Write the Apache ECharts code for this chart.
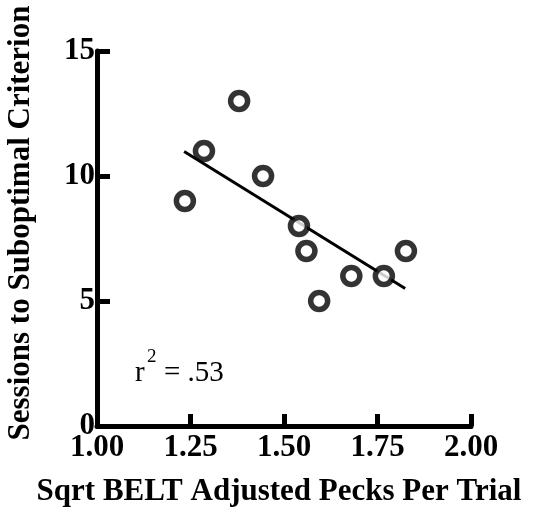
<!DOCTYPE html>
<html><head><meta charset="utf-8">
<script src="https://cdn.jsdelivr.net/npm/echarts@6/dist/echarts.min.js"></script>
<style>html,body{margin:0;padding:0;background:#fff}#c{width:540px;height:512px}</style>
</head><body><div id="c"></div>
<script>
// Data
const xValues = [1.235, 1.286, 1.38, 1.444, 1.54, 1.56, 1.594, 1.68, 1.767, 1.826];
const yValues = [9, 11, 13, 10, 8, 7, 5, 6, 6, 7];
const fitX = [1.233, 1.824];
const fitY = [10.98, 5.5];
const xTickLabels = ['1.00', '1.25', '1.50', '1.75', '2.00'];
const yTickLabels = ['0', '5', '10', '15'];
const xTitle = 'Sqrt BELT Adjusted Pecks Per Trial';
const yTitle = 'Sessions to Suboptimal Criterion';
const annotR = 'r';
const annotSup = '2';
const annotRest = '= .53';

const serif = '"Liberation Serif", "Times New Roman", serif';
const chart = echarts.init(document.getElementById('c'), null, {renderer: 'canvas'});
const pts = xValues.map((x, i) => [x, yValues[i]]);
const fit = fitX.map((x, i) => [x, fitY[i]]);

chart.setOption({
  animation: false,
  backgroundColor: '#fff',
  grid: {left: 97, right: 69, top: 51, bottom: 86, containLabel: false},
  xAxis: {
    type: 'value', min: 1, max: 2, interval: 0.25,
    splitLine: {show: false},
    axisLine: {show: true, lineStyle: {color: '#000', width: 5}},
    axisTick: {show: true, inside: true, length: 12, lineStyle: {color: '#000', width: 5}},
    axisLabel: {color: '#000', fontFamily: serif, fontWeight: 'bold', fontSize: 31, margin: 6,
      formatter: v => xTickLabels[Math.round((v - 1) / 0.25)]}
  },
  yAxis: {
    type: 'value', min: 0, max: 15, interval: 5,
    splitLine: {show: false},
    axisLine: {show: true, lineStyle: {color: '#000', width: 5}},
    axisTick: {show: true, inside: true, length: 13, lineStyle: {color: '#000', width: 5}},
    axisLabel: {color: '#000', fontFamily: serif, fontWeight: 'bold', fontSize: 31, margin: 2,
      formatter: v => yTickLabels[Math.round(v / 5)]}
  },
  series: [
    {type: 'line', data: fit, symbol: 'none', z: 2,
      lineStyle: {color: '#000', width: 3}},
    {type: 'scatter', data: pts, symbol: 'circle', symbolSize: 17, z: 3,
      itemStyle: {color: '#fff', borderColor: '#000', borderWidth: 5.5}}
  ],
  graphic: [
    {type: 'text', x: 21, y: 223, rotation: Math.PI / 2,
      style: {text: yTitle, x: 0, y: 0, textAlign: 'center', textVerticalAlign: 'middle',
        font: 'bold 31px ' + serif, fill: '#000'}},
    {type: 'text', x: 279, y: 492,
      style: {text: xTitle, x: 0, y: 0, textAlign: 'center', textVerticalAlign: 'middle',
        font: 'bold 31px ' + serif, fill: '#000'}},
    {type: 'text', x: 135, y: 373,
      style: {text: annotR, textAlign: 'left', textVerticalAlign: 'middle', font: '29px ' + serif, fill: '#000'}},
    {type: 'text', x: 147, y: 357,
      style: {text: annotSup, textAlign: 'left', textVerticalAlign: 'middle', font: '19px ' + serif, fill: '#000'}},
    {type: 'text', x: 164, y: 373,
      style: {text: annotRest, textAlign: 'left', textVerticalAlign: 'middle', font: '29px ' + serif, fill: '#000'}}
  ]
});
</script>
</body></html>
